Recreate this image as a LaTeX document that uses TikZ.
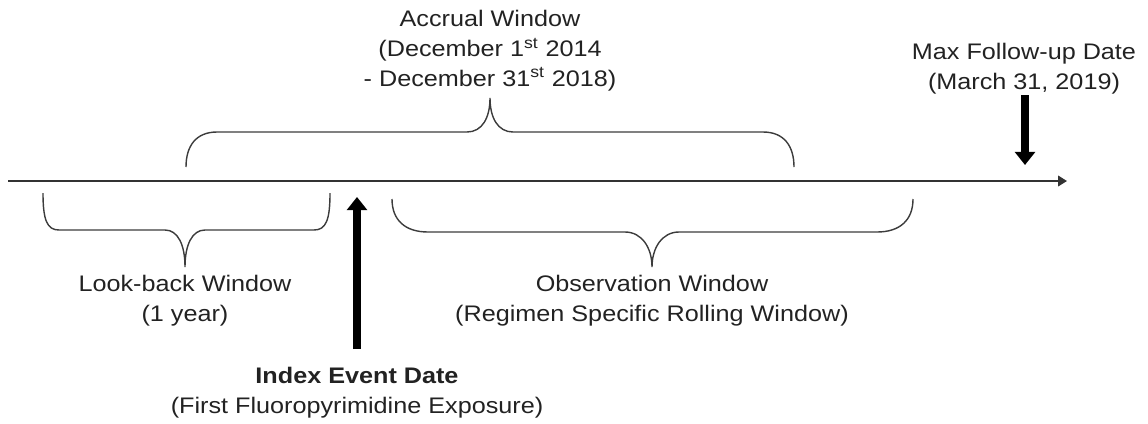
\documentclass[tikz,border=0pt]{standalone}
\usepackage{fontspec}
\setmainfont[FakeStretch=1.12]{Liberation Sans}
\usepackage{tikz}
\usetikzlibrary{arrows.meta,positioning,calc}
\usepackage{xcolor}
\definecolor{tlInk}{HTML}{222222}
\definecolor{tlLine}{HTML}{333333}
\definecolor{tlBrace}{HTML}{3C3C3C}
\tikzset{
  lbl/.style={align=center, inner sep=0pt, text=tlInk, font=\fontsize{16}{21.3}\selectfont},
  axis/.style={-{Triangle[length=0.22cm,width=0.26cm]}, line width=1.4pt, draw=tlLine},
  brc/.style={line width=1pt, draw=tlBrace},
  bigarr/.style={-{Triangle[length=0.33cm,width=0.5cm]}, line width=5.4pt, draw=black},
}
\begin{document}
\begin{tikzpicture}[x=0.025cm, y=-0.025cm]
        \useasboundingbox (0,0) rectangle (1148,423);
        % time line
        \coordinate (axL) at (8,181);
        \coordinate (axR) at (1067,181);
        \draw[axis] (axL) -- (axR);
        % labels
        \node[lbl] (accrual) at (490,51) {Accrual Window\\(December 1\textsuperscript{st} 2014\\- December 31\textsuperscript{st} 2018)};
        \node[lbl] (maxfu) at (1024,69) {Max Follow-up Date\\(March 31, 2019)};
        \node[lbl] (lookback) at (185,301) {Look-back Window\\(1 year)};
        \node[lbl] (obs) at (652,301) {Observation Window\\(Regimen Specific Rolling Window)};
        \node[lbl] (index) at (357,393) {\textbf{Index Event Date}\\(First Fluoropyrimidine Exposure)};
        % braces
        \draw[brc] (186,167) .. controls (186,146) and (196,132) .. (217,132) -- (467,132)
            .. controls (482,132) and (490,118) .. (490,98)
            .. controls (490,118) and (498,132) .. (513,132) -- (763,132)
            .. controls (784,132) and (794,146) .. (794,167);
        \draw[brc] (43,193) .. controls (43,220) and (47,230) .. (59,230) -- (165,230)
            .. controls (178,230) and (185,245) .. (185,267)
            .. controls (185,245) and (192,230) .. (205,230) -- (314,230)
            .. controls (326,230) and (330,220) .. (330,193);
        \draw[brc] (392,199) .. controls (392,220) and (405,232) .. (428,232) -- (625,232)
            .. controls (642,232) and (652,248) .. (652,267)
            .. controls (652,248) and (662,232) .. (679,232) -- (877,232)
            .. controls (900,232) and (913,220) .. (913,199);
        % event arrows
        \coordinate (idxfoot) at (357,349);
        \coordinate (idxtip) at (357,197);
        \draw[bigarr] (idxfoot) -- (idxtip);
        \coordinate (mftop) at (1025,95);
        \coordinate (mftip) at (1025,165);
        \draw[bigarr] (mftop) -- (mftip);
    \end{tikzpicture}
\end{document}
